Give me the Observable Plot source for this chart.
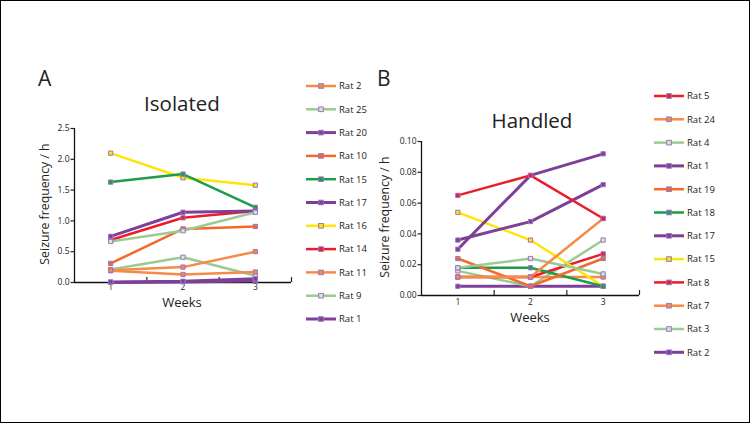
<!DOCTYPE html>
<html><head><meta charset="utf-8">
<script src="https://cdn.jsdelivr.net/npm/d3@7"></script>
<script src="https://cdn.jsdelivr.net/npm/@observablehq/plot@0.6"></script>
<style>
body{margin:0;background:#fff;}
#wrap{position:relative;width:750px;height:423px;box-sizing:border-box;border:1px solid #000;background:#fff;overflow:hidden;}
#wrap svg{position:absolute;}
</style></head><body><div id="wrap"></div>
<script>
// ---------- data ----------
const weeks = [1, 2, 3];
const halfWeeks = [1.5, 2.5, 3.5];

const ratsA = ["Rat 2","Rat 25","Rat 20","Rat 10","Rat 15","Rat 17","Rat 16","Rat 14","Rat 11","Rat 9","Rat 1"];
const valuesA = [
  [0.20, 0.25, 0.50],
  [0.665, 0.84, 1.14],
  [0.75, 1.14, 1.16],
  [0.31, 0.87, 0.91],
  [1.63, 1.76, 1.22],
  [0.01, 0.02, 0.06],
  [2.10, 1.70, 1.58],
  [0.69, 1.05, 1.16],
  [0.19, 0.13, 0.17],
  [0.21, 0.41, 0.11],
  [0.00, 0.01, 0.03]
];
const ticksA = [0, 0.5, 1.0, 1.5, 2.0, 2.5];

const ratsB = ["Rat 5","Rat 24","Rat 4","Rat 1","Rat 19","Rat 18","Rat 17","Rat 15","Rat 8","Rat 7","Rat 3","Rat 2"];
const valuesB = [
  [0.065, 0.078, 0.050],
  [0.012, 0.012, 0.050],
  [0.018, 0.024, 0.014],
  [0.030, 0.078, 0.092],
  [0.024, 0.006, 0.024],
  [0.018, 0.018, 0.006],
  [0.036, 0.048, 0.072],
  [0.054, 0.036, 0.006],
  [0.012, 0.012, 0.027],
  [0.012, 0.012, 0.012],
  [0.016, 0.006, 0.036],
  [0.006, 0.006, 0.006]
];
const ticksB = [0, 0.02, 0.04, 0.06, 0.08, 0.10];

// ---------- styles ----------
const palette = {
  orange: "#F68B47", darkorange: "#F26A2B", lightgreen: "#9ACB93",
  purple: "#7E3F98", green: "#1E9C49", yellow: "#FFE40A", red: "#EC1C2A"
};
const hueA = ["orange","lightgreen","purple","darkorange","green","purple","yellow","red","orange","lightgreen","purple"];
const hueB = ["red","orange","lightgreen","purple","darkorange","green","purple","yellow","red","orange","lightgreen","purple"];
const markerStroke = "#9B74C4";
const markerFill = h => h === "lightgreen" ? "#D3E8CC" : palette[h];
const lineWidth = h => h === "purple" ? 3 : 2.5;
const FONT = "'Open Sans', sans-serif";

function panel(rats, values, hues, yMax, yTicks, yFmt, geom) {
  const rows = rats.flatMap((r, i) => weeks.map((w, j) => ({
    rat: r, week: w, value: values[i][j], hue: hues[i]
  })));
  const order = rows.slice().reverse();
  return Plot.plot({
    width: geom.width, height: geom.height,
    marginLeft: geom.ml, marginRight: geom.mr, marginTop: geom.mt, marginBottom: geom.mb,
    x: {domain: [0.5, 3.5]},
    y: {domain: [0, yMax]},
    color: {type: "identity"},
    style: {fontFamily: FONT, background: "transparent", overflow: "visible", color: "#222"},
    marks: [
      Plot.axisY({ticks: yTicks, tickFormat: yFmt, tickSize: 3.5, tickPadding: 1.5, fontSize: 8.5, label: null, strokeWidth: 1.2}),
      Plot.axisX({ticks: weeks, tickSize: 0, tickPadding: geom.tp, fontSize: 8.5, label: null, tickFormat: d3.format("d")}),
      Plot.axisX({ticks: halfWeeks, tickSize: -5, tickFormat: () => "", label: null, strokeWidth: 1.2}),
      Plot.ruleX([0.5], {stroke: "#111", strokeWidth: 1.3}),
      Plot.ruleY([0], {stroke: "#111", strokeWidth: 1.3}),
      Plot.line(order, {x: "week", y: "value", z: "rat", stroke: d => palette[d.hue], strokeWidth: d => lineWidth(d.hue), strokeLinejoin: "round"}),
      Plot.dot(order, {x: "week", y: "value", symbol: "square", r: 2.4, fill: d => markerFill(d.hue), stroke: markerStroke, strokeWidth: 1})
    ]
  });
}

const wrap = document.getElementById("wrap");

const plotA = panel(ratsA, valuesA, hueA, 2.5, ticksA, d3.format(".1f"),
  {width: 300, height: 194, ml: 73, mr: 10, mt: 10, mb: 30, tp: 1.5});
plotA.style.left = "0px"; plotA.style.top = "117px";
wrap.appendChild(plotA);

const plotB = panel(ratsB, valuesB, hueB, 0.10, ticksB, d3.format(".2f"),
  {width: 298, height: 194, ml: 70, mr: 10, mt: 10, mb: 30, tp: 3});
plotB.style.left = "350px"; plotB.style.top = "130px";
wrap.appendChild(plotB);

// ---------- overlay: titles, axis labels, legends ----------
const ov = d3.select(wrap).append("svg")
  .attr("width", 748).attr("height", 421)
  .style("left", "0px").style("top", "0px")
  .style("font-family", FONT).style("pointer-events", "none");

function txt(x, y, s, size, anchor = "start", rot = 0) {
  const t = ov.append("text").attr("x", x).attr("y", y).attr("font-size", size)
    .attr("fill", "#222").attr("text-anchor", anchor).text(s);
  if (rot) t.attr("transform", `rotate(${rot},${x},${y})`);
  return t;
}

// Panel A texts
txt(37, 85, "A", 21);
txt(181, 110, "Isolated", 20.5, "middle");
txt(48, 203, "Seizure frequency / h", 12.3, "middle", -90);
txt(181, 306, "Weeks", 13, "middle");
// Panel B texts
txt(376, 85, "B", 21);
txt(531, 127, "Handled", 20.5, "middle");
txt(388, 216, "Seizure frequency / h", 12.3, "middle", -90);
txt(529, 321, "Weeks", 13, "middle");

function legend(rats, hues, x0, y0, step) {
  rats.forEach((r, i) => {
    const y = y0 + i * step;
    const h = hues[i];
    ov.append("line").attr("x1", x0).attr("x2", x0 + 30).attr("y1", y).attr("y2", y)
      .attr("stroke", palette[h]).attr("stroke-width", lineWidth(h));
    ov.append("rect").attr("x", x0 + 15 - 2.3).attr("y", y - 2.3).attr("width", 4.6).attr("height", 4.6)
      .attr("fill", markerFill(h)).attr("stroke", markerStroke).attr("stroke-width", 1);
    txt(x0 + 33, y + 3.3, r, 9.5);
  });
}
legend(ratsA, hueA, 305, 85, 23.3);
legend(ratsB, hueB, 653, 95, 23.3);
</script></body></html>
